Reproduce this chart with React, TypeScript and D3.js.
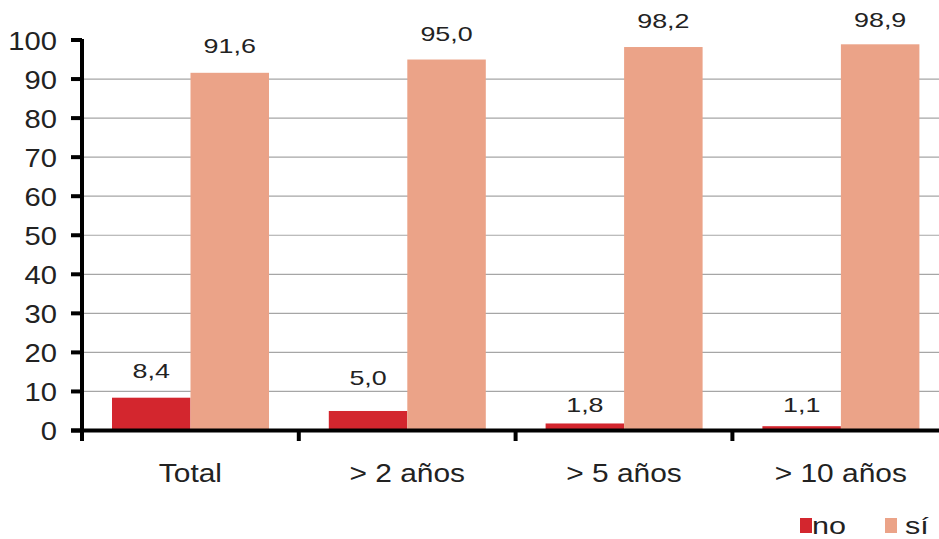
import React from "react";
import * as d3 from "d3";

const categories = ["Total", "> 2 años", "> 5 años", "> 10 años"];
const series = ["no", "sí"];
const noValues = [8.4, 5.0, 1.8, 1.1];
const siValues = [91.6, 95.0, 98.2, 98.9];
const valueLabels = [
  ["8,4", "5,0", "1,8", "1,1"],
  ["91,6", "95,0", "98,2", "98,9"],
];
const yTicks = [0, 10, 20, 30, 40, 50, 60, 70, 80, 90, 100];
const colors = ["#D3262E", "#EBA388"];
// gap (px) between each value label baseline and the top of its bar
const labelGaps = [
  [19.4, 26, 11.8, 14.5],
  [19.5, 18.8, 18.7, 17],
];

const W = 939;
const H = 539;
const FONT = "'Liberation Sans', Arial, sans-serif";

export default function App() {
  const x0 = d3.scaleBand<string>().domain(categories).range([82, 82 + 4 * 216.8]).padding(0);
  const x1 = d3.scaleBand<string>().domain(series).range([30, 187]).padding(0);
  const y = d3.scaleLinear().domain([0, 100]).range([430.5, 40]);
  const data = [noValues, siValues];

  return (
    <svg width={W} height={H} style={{ position: "absolute", left: 0, top: 0, background: "#fff" }}>
      {/* gridlines */}
      {yTicks.filter((t) => t > 0 && t < 100).map((t) => (
        <line key={"g" + t} x1={82} x2={W} y1={y(t)} y2={y(t)} stroke="#a6a6a6" strokeWidth={1.2} />
      ))}
      {/* bars */}
      {categories.map((c, i) =>
        series.map((s, j) => {
          const v = data[j][i];
          const bx = (x0(c) as number) + (x1(s) as number);
          return (
            <rect key={c + s} x={bx} y={y(v)} width={x1.bandwidth()} height={y(0) - y(v)} fill={colors[j]} />
          );
        })
      )}
      {/* value labels */}
      {categories.map((c, i) =>
        series.map((s, j) => {
          const v = data[j][i];
          const cx = (x0(c) as number) + (x1(s) as number) + x1.bandwidth() / 2;
          return (
            <text
              key={"l" + c + s}
              transform={`translate(${cx},${y(v) - labelGaps[j][i]}) scale(1.28,1)`}
              textAnchor="middle"
              fontFamily={FONT}
              fontSize={21}
              fill="#222"
            >
              {valueLabels[j][i]}
            </text>
          );
        })
      )}
      {/* y axis */}
      <line x1={82} x2={82} y1={39} y2={441} stroke="#000" strokeWidth={4} />
      {yTicks.map((t) => (
        <g key={"t" + t}>
          <line x1={71} x2={82} y1={y(t)} y2={y(t)} stroke="#000" strokeWidth={4} />
          <text
            transform={`translate(57,${y(t) + 9.5}) scale(1.1,1)`}
            textAnchor="end"
            fontFamily={FONT}
            fontSize={26.5}
            fill="#222"
          >
            {t}
          </text>
        </g>
      ))}
      {/* x axis */}
      <line x1={71} x2={W} y1={y(0)} y2={y(0)} stroke="#000" strokeWidth={4} />
      {categories.map((c) => (
        <g key={"x" + c}>
          <line x1={x0(c) as number} x2={x0(c) as number} y1={y(0)} y2={441} stroke="#000" strokeWidth={4} />
          <text
            transform={`translate(${(x0(c) as number) + x0.bandwidth() / 2},481.5) scale(1.15,1)`}
            textAnchor="middle"
            fontFamily={FONT}
            fontSize={26}
            fill="#222"
          >
            {c}
          </text>
        </g>
      ))}
      {/* legend */}
      <rect x={800} y={518} width={12} height={15} fill={colors[0]} />
      <text transform="translate(812,533.5) scale(1.3,1)" fontFamily={FONT} fontSize={23.5} fill="#222">
        no
      </text>
      <rect x={885} y={518} width={12} height={15} fill={colors[1]} />
      <text transform="translate(905,533.5) scale(1.3,1)" fontFamily={FONT} fontSize={23.5} fill="#222">
        sí
      </text>
    </svg>
  );
}
